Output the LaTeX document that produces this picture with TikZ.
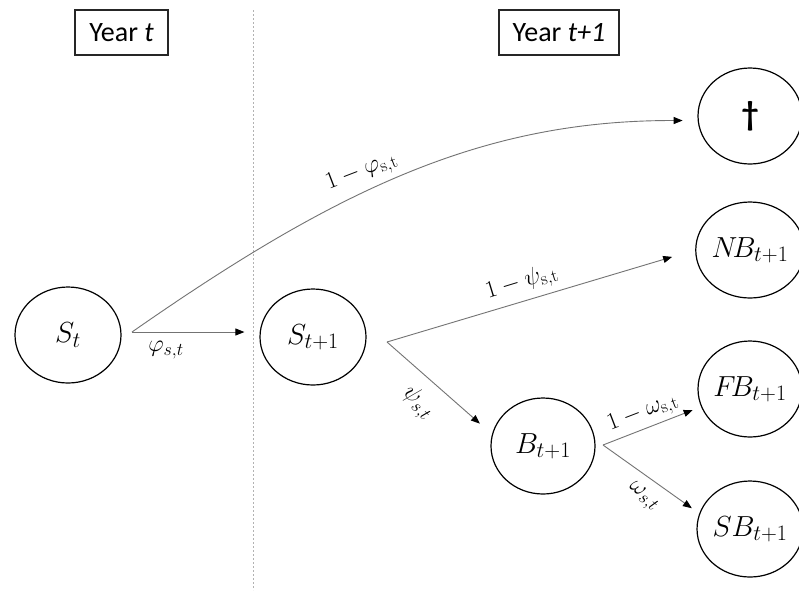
\RequirePackage{fix-cm}
\documentclass[tikz,border=0pt]{standalone}
\usepackage{fontspec}
\newfontfamily\carlito{Carlito}
\usetikzlibrary{shapes.geometric,arrows.meta}
\DeclareMathSizes{29}{29}{22}{17}
\DeclareMathSizes{24}{24}{18}{14}
\begin{document}
\begin{tikzpicture}[x=1pt,y=-1pt,
  statenode/.style={draw=black, line width=1.2pt, ellipse, minimum width=104pt, minimum height=96pt, inner sep=0pt, font=\fontsize{29}{32}\selectfont},
  yearbox/.style={draw=black!85, line width=1.2pt, minimum height=45pt, inner sep=0pt, font=\carlito\fontsize{28}{32}\selectfont},
  flow/.style={draw=black!55, line width=0.9pt, -{Triangle[length=9pt,width=7pt,color=black]}},
  lbl/.style={inner sep=0pt, font=\fontsize{24}{27}\selectfont},
  divider/.style={draw=black!30, line width=0.8pt, dash pattern=on 2pt off 2pt}
]
\useasboundingbox (0,0) rectangle (799,590);
\fill[white] (0,0) rectangle (799,590);

% year boxes
\node[yearbox, minimum width=93pt] (yt) at (121.5,32.5) {Year \textit{t}};
\node[yearbox, minimum width=120pt] (yt1) at (559,32.5) {Year \textit{t+1}};

% divider
\draw[divider] (253,10) -- (253,590);

% states
\node[statenode, minimum width=106pt] (St) at (68,335) {$S_t$};
\node[statenode, minimum width=106pt] (S1) at (313,337) {$S_{t+1}$};
\node[statenode] (B) at (543,446) {$B_{t+1}$};
\node[statenode] (D) at (750,116) {\carlito\bfseries\fontsize{34}{36}\selectfont †};
\node[statenode] (NB) at (750,250) {$N\!B_{t+1}$};
\node[statenode] (FB) at (750,389) {$F\!B_{t+1}$};
\node[statenode] (SB) at (750,529) {$SB_{t+1}$};

% branch points
\coordinate (stout) at (132,332);
\coordinate (s1out) at (387,342);
\coordinate (bout) at (603,445);

% connectors
\draw[flow, shorten >=15pt] (stout) -- (stout -| S1.west);
\draw[flow, shorten >=15pt] (stout) .. controls (337,189) and (483,120) .. (D.185);
\draw[flow, shorten >=24pt] (s1out) -- (NB.west);
\draw[flow, shorten >=16pt] (s1out) -- (B.167);
\draw[flow, shorten >=9pt] (bout) -- (FB.200);
\draw[flow, shorten >=9pt] (bout) -- (SB.163);

% labels
\node[lbl] (lphi) at (166,350) {$\varphi_{s,t}$};
\node[lbl, rotate=21] (lmphi) at (362,172) {$1-\varphi_{\mathrm{s,t}}$};
\node[lbl, rotate=17] (lmpsi) at (522,283) {$1-\psi_{\mathrm{s,t}}$};
\node[lbl, rotate=-46] (lpsi) at (418,403) {$\psi_{s,t}$};
\node[lbl, rotate=21] (lmom) at (643,413) {$1-\omega_{\mathrm{s,t}}$};
\node[lbl, rotate=-40] (lom) at (643,497) {$\omega_{s,t}$};
\end{tikzpicture}
\end{document}
